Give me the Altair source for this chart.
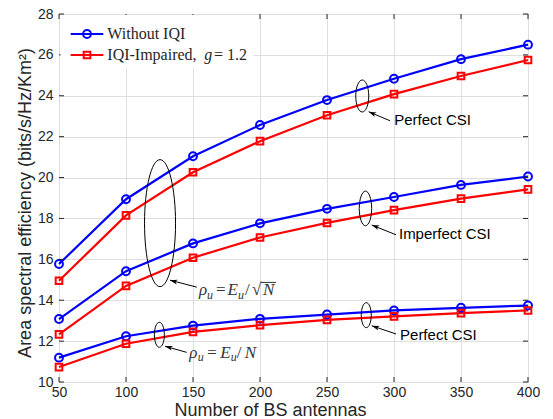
import math
import altair as alt
import pandas as pd

# ---------------- data ----------------
antennas = [50, 100, 150, 200, 250, 300, 350, 400]

# rho_u = E_u / sqrt(N), perfect CSI
sqrt_perfect_without = [15.77, 18.94, 21.04, 22.57, 23.79, 24.83, 25.79, 26.50]
sqrt_perfect_iqi = [14.95, 18.15, 20.26, 21.78, 23.05, 24.08, 24.97, 25.75]
# rho_u = E_u / sqrt(N), imperfect CSI
sqrt_imperfect_without = [13.08, 15.42, 16.78, 17.76, 18.47, 19.05, 19.64, 20.05]
sqrt_imperfect_iqi = [12.33, 14.70, 16.08, 17.07, 17.78, 18.41, 18.97, 19.42]
# rho_u = E_u / N, perfect CSI
n_perfect_without = [11.19, 12.24, 12.76, 13.09, 13.30, 13.50, 13.63, 13.74]
n_perfect_iqi = [10.73, 11.87, 12.45, 12.78, 13.04, 13.21, 13.37, 13.50]

x_ticks = [50, 100, 150, 200, 250, 300, 350, 400]
y_ticks = [10, 12, 14, 16, 18, 20, 22, 24, 26, 28]

legend_without = "Without IQI"
legend_iqi_a = "IQI-Impaired,"
legend_iqi_g = "g"
legend_iqi_b = "= 1.2"

x_title = "Number of BS antennas"
y_title = "Area spectral efficiency (bits/s/Hz/Km\u00b2)"

note_texts = ["Perfect CSI", "Imperfect CSI", "Perfect CSI"]
note_x = [300.2, 303.7, 304.5]
note_y = [22.81, 17.25, 12.31]

# ellipses (data centre) and arrows (tail -> head), in data units
ell_x = [125.4, 124.9, 276.3, 278.7, 279.3]
ell_y = [17.77, 12.31, 23.99, 18.49, 13.27]
ell_hw = [15.5, 5.0, 6.5, 6.2, 5.0]      # half width, px
ell_hh = [63.5, 12.5, 16.0, 17.3, 12.5]  # half height, px

arr_tail_x = [297.0, 301.5, 301.5, 152.8, 145.3]
arr_tail_y = [22.78, 17.20, 12.35, 14.64, 11.45]
arr_head_x = [281.1, 283.4, 283.4, 132.8, 129.1]
arr_head_y = [23.22, 17.68, 12.75, 14.98, 11.75]

# ---------------- layout ----------------
W, H = 469, 368
X_DOM = [50, 400]
Y_DOM = [10, 28]
PX_X = W / (X_DOM[1] - X_DOM[0])
PX_Y = H / (Y_DOM[1] - Y_DOM[0])
AX = "#262626"
BLUE = "#0000ff"
RED = "#ff0000"
SANS = "Liberation Sans"
SERIF = "Liberation Serif"

xscale = alt.Scale(domain=X_DOM, nice=False, zero=False)
yscale = alt.Scale(domain=Y_DOM, nice=False, zero=False)


def X(field, axis=None):
    if axis is None:
        return alt.X(field, scale=xscale, title=x_title)
    return alt.X(field, scale=xscale, axis=axis, title=x_title)


def Y(field, axis=None):
    if axis is None:
        return alt.Y(field, scale=yscale, title=y_title)
    return alt.Y(field, scale=yscale, axis=axis, title=y_title)


rows = []
curves = [
    ("sp", "without", sqrt_perfect_without),
    ("sp", "iqi", sqrt_perfect_iqi),
    ("si", "without", sqrt_imperfect_without),
    ("si", "iqi", sqrt_imperfect_iqi),
    ("np", "without", n_perfect_without),
    ("np", "iqi", n_perfect_iqi),
]
for cid, kind, vals in curves:
    for n, v in zip(antennas, vals):
        rows.append({"N": n, "ase": v, "curve": cid + "_" + kind, "kind": kind})
df = pd.DataFrame(rows)

x_axis = alt.Axis(
    values=x_ticks, grid=True, ticks=False, domain=False,
    labelFlush=False, labelOverlap=False, labelPadding=3,
    titleFontSize=18,
    titleX=211, titleY=33, titleBaseline="alphabetic", titleAlign="center",
)
y_axis = alt.Axis(
    values=y_ticks, grid=True, ticks=False, domain=False,
    labelFlush=False, labelOverlap=False, labelPadding=6,
    titleFontSize=18,
    titleAngle=270, titleX=-29, titleY=188.5, titleBaseline="alphabetic",
    titleAlign="center",
)

color = alt.Color("kind:N", scale=alt.Scale(domain=["without", "iqi"], range=[BLUE, RED]), legend=None)

lines = alt.Chart(df).mark_line(strokeWidth=2.2).encode(
    x=X("N:Q", x_axis), y=Y("ase:Q", y_axis), color=color, detail="curve:N"
)
circles = alt.Chart(df).transform_filter(alt.datum.kind == "without").mark_point(
    shape="circle", size=62, filled=False, strokeWidth=2, color=BLUE, opacity=1
).encode(x=X("N:Q"), y=Y("ase:Q"))
squares = alt.Chart(df).transform_filter(alt.datum.kind == "iqi").mark_point(
    shape="square", size=44, filled=False, strokeWidth=2, color=RED, opacity=1
).encode(x=X("N:Q"), y=Y("ase:Q"))

# inside ticks on all four sides (MATLAB box)
xt = pd.DataFrame({"t": x_ticks})
yt = pd.DataFrame({"t": y_ticks})
tick_style = dict(color=AX, strokeWidth=1)
ticks_b = alt.Chart(xt).mark_rule(**tick_style).encode(x=X("t:Q"), y=alt.value(H), y2=alt.value(H - 5))
ticks_t = alt.Chart(xt).mark_rule(**tick_style).encode(x=X("t:Q"), y=alt.value(0), y2=alt.value(5))
ticks_l = alt.Chart(yt).mark_rule(**tick_style).encode(y=Y("t:Q"), x=alt.value(0), x2=alt.value(5))
ticks_r = alt.Chart(yt).mark_rule(**tick_style).encode(y=Y("t:Q"), x=alt.value(W), x2=alt.value(W - 5))


# ellipses as custom symbol paths
def ellipse_path(rx):
    k = 0.5523
    return (
        f"M0,-1 C{k*rx:.4f},-1 {rx:.4f},{-k:.4f} {rx:.4f},0 "
        f"C{rx:.4f},{k:.4f} {k*rx:.4f},1 0,1 "
        f"C{-k*rx:.4f},1 {-rx:.4f},{k:.4f} {-rx:.4f},0 "
        f"C{-rx:.4f},{-k:.4f} {-k*rx:.4f},-1 0,-1 Z"
    )


ell_df = pd.DataFrame({
    "x": ell_x, "y": ell_y,
    "shape": [ellipse_path(w / h) for w, h in zip(ell_hw, ell_hh)],
    "size": [(2 * h) ** 2 for h in ell_hh],
})
ellipses = alt.Chart(ell_df).mark_point(filled=False, color="black", strokeWidth=1, opacity=1).encode(
    x=X("x:Q"), y=Y("y:Q"),
    shape=alt.Shape("shape:N", scale=None),
    size=alt.Size("size:Q", scale=None),
)

# arrows
angles = []
for tx, ty, hx, hy in zip(arr_tail_x, arr_tail_y, arr_head_x, arr_head_y):
    dxp = (hx - tx) * PX_X
    dyp = -(hy - ty) * PX_Y
    angles.append(math.degrees(math.atan2(dxp, -dyp)) % 360)
arr_df = pd.DataFrame({"tx": arr_tail_x, "ty": arr_tail_y, "hx": arr_head_x, "hy": arr_head_y, "ang": angles})
arrow_lines = alt.Chart(arr_df).mark_rule(color="black", strokeWidth=1).encode(
    x=X("tx:Q"), y=Y("ty:Q"), x2="hx:Q", y2="hy:Q"
)
ARROW = "M0,0 L0.6,1.9 L0,1.4 L-0.6,1.9 Z"
arrow_heads = alt.Chart(arr_df).mark_point(
    shape=ARROW, size=64, filled=True, color="black", strokeWidth=0, opacity=1
).encode(x=X("hx:Q"), y=Y("hy:Q"), angle=alt.Angle("ang:Q", scale=None))

notes = alt.Chart(pd.DataFrame({"x": note_x, "y": note_y, "t": note_texts})).mark_text(
    align="left", baseline="middle", font=SANS, fontSize=15, color="black"
).encode(x=X("x:Q"), y=Y("y:Q"), text="t:N")


# math labels rho_u = E_u / sqrt(N)  and  rho_u = E_u / N
def math_pieces(x0, y0, pieces):
    out = []
    for txt, dx, dy, ital, size in pieces:
        out.append({
            "x": x0 + dx / PX_X, "y": y0 - (dy + 5) / PX_Y,
            "t": txt, "ital": ital, "size": size,
        })
    return out


m1 = math_pieces(154.5, 14.48, [
    ("\u03c1", 0, 0, True, 17), ("u", 8, 3.5, True, 12), ("=", 17, 0, False, 17),
    ("E", 28.5, 0, True, 17), ("u", 39, 3.5, True, 12), ("/", 46, 0, False, 17),
    ("\u221a", 53, 0, False, 17), ("N", 64, 0, True, 17),
])
m2 = math_pieces(147.2, 11.43, [
    ("\u03c1", 0, 0, True, 17), ("u", 8.5, 3.5, True, 12), ("=", 18, 0, False, 17),
    ("E", 31, 0, True, 17), ("u", 41.5, 3.5, True, 12), ("/", 47.5, 0, False, 17),
    ("N", 55.5, 0, True, 17),
])
math_df = pd.DataFrame(m1 + m2)
math_it = alt.Chart(math_df).transform_filter(alt.datum.ital).mark_text(
    align="left", baseline="alphabetic", font=SERIF, fontStyle="italic", color="#333333"
).encode(x=X("x:Q"), y=Y("y:Q"), text="t:N", size=alt.Size("size:Q", scale=None))
math_up = alt.Chart(math_df).transform_filter(~alt.datum.ital).mark_text(
    align="left", baseline="alphabetic", font=SERIF, color="#333333"
).encode(x=X("x:Q"), y=Y("y:Q"), text="t:N", size=alt.Size("size:Q", scale=None))
over_df = pd.DataFrame({"x1": [154.5 + 62 / PX_X], "x2": [154.5 + 77 / PX_X], "y": [14.48 + 8 / PX_Y]})
overbar = alt.Chart(over_df).mark_rule(color="#333333", strokeWidth=1).encode(
    x=X("x1:Q"), x2="x2:Q", y=Y("y:Q")
)

# manual legend box (top-left, inside)
one = pd.DataFrame({"a": [0]})
leg_box = alt.Chart(one).mark_rect(fill="white", stroke="white").encode(
    x=alt.value(2), x2=alt.value(194), y=alt.value(1.5), y2=alt.value(54)
)
leg_l1 = alt.Chart(one).mark_rule(color=BLUE, strokeWidth=2.2).encode(
    x=alt.value(11.7), x2=alt.value(44.3), y=alt.value(20)
)
leg_l2 = alt.Chart(one).mark_rule(color=RED, strokeWidth=2.2).encode(
    x=alt.value(11.7), x2=alt.value(44.3), y=alt.value(41)
)
leg_p1 = alt.Chart(one).mark_point(shape="circle", size=62, filled=False, strokeWidth=2, color=BLUE, opacity=1).encode(
    x=alt.value(28), y=alt.value(20)
)
leg_p2 = alt.Chart(one).mark_point(shape="square", size=44, filled=False, strokeWidth=2, color=RED, opacity=1).encode(
    x=alt.value(28), y=alt.value(41)
)
LEG_FS = 16
leg_t1 = alt.Chart(one).mark_text(align="left", baseline="middle", font=SERIF, fontSize=LEG_FS, color="#262626").encode(
    x=alt.value(48.3), y=alt.value(20), text=alt.value(legend_without)
)
leg_t2 = alt.Chart(one).mark_text(align="left", baseline="middle", font=SERIF, fontSize=LEG_FS, color="#262626").encode(
    x=alt.value(48.3), y=alt.value(41), text=alt.value(legend_iqi_a)
)
leg_t3 = alt.Chart(one).mark_text(align="left", baseline="middle", font=SERIF, fontStyle="italic", fontSize=LEG_FS, color="#262626").encode(
    x=alt.value(145.3), y=alt.value(41), text=alt.value(legend_iqi_g)
)
leg_t4 = alt.Chart(one).mark_text(align="left", baseline="middle", font=SERIF, fontSize=LEG_FS, color="#262626").encode(
    x=alt.value(155), y=alt.value(41), text=alt.value(legend_iqi_b)
)

chart = alt.layer(
    lines, circles, squares,
    ticks_b, ticks_t, ticks_l, ticks_r,
    ellipses, arrow_lines, arrow_heads, notes,
    math_it, math_up, overbar,
    leg_box, leg_l1, leg_l2, leg_p1, leg_p2, leg_t1, leg_t2, leg_t3, leg_t4,
).properties(
    width=W, height=H,
    padding={"left": 51, "top": 6, "right": 16, "bottom": 37},
    autosize=alt.AutoSizeParams(type="none"),
    background="white",
).configure_view(
    stroke=AX, strokeWidth=1
).configure_axis(
    labelFont=SANS, labelFontSize=14, labelColor=AX,
    titleFont=SANS, titleFontWeight="normal", titleColor=AX,
    gridColor="#dedede", gridWidth=1, gridOpacity=1,
)

chart.save("out.html", embed_options={"renderer": "svg", "actions": False})
